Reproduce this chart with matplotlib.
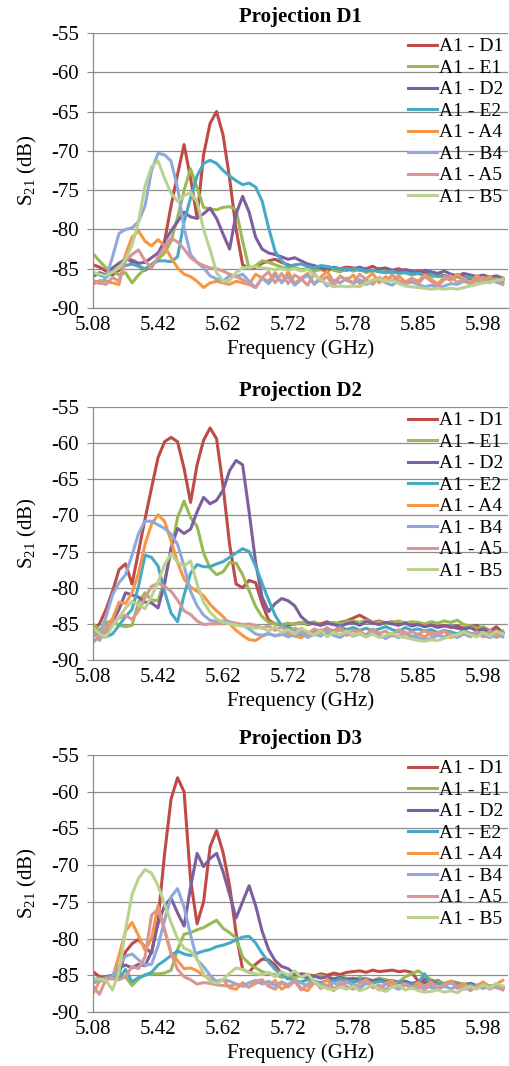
import numpy as np
import matplotlib
matplotlib.use("Agg")
import matplotlib.pyplot as plt

plt.rcParams['font.family'] = ['Liberation Serif', 'DejaVu Serif']
plt.rcParams['mathtext.fontset'] = 'custom'
plt.rcParams['mathtext.rm'] = 'Liberation Serif'
plt.rcParams['axes.unicode_minus'] = False

# category axis: one label every 10 samples
freq_labels = ["5.08", "5.42", "5.62", "5.72", "5.78", "5.85", "5.98"]
series_names = ["A1 - D1", "A1 - E1", "A1 - D2", "A1 - E2",
                "A1 - A4", "A1 - B4", "A1 - A5", "A1 - B5"]
colors = ["#BE4B48", "#98B954", "#7D5FA0", "#46AAC5",
          "#F79646", "#8EA9DB", "#DA9694", "#B9D28E"]
titles = ["Projection D1", "Projection D2", "Projection D3"]

# ---- Projection D1 ----
p1_D1 = [-84.5, -84.8, -85.3, -85.8, -85.2, -83.5, -84.2, -84.6, -85.2, -84.5,
         -83.8, -81.5, -77.0, -73.0, -69.2, -73.5, -78.5, -70.5, -66.5, -65.0,
         -68.0, -73.5, -80.0, -84.5, -85.0, -84.8, -84.3, -84.0, -83.8, -84.2,
         -84.5, -84.9, -85.2, -85.0, -84.7, -85.1, -85.3, -84.9, -85.0, -84.8,
         -84.9, -85.2, -85.0, -84.7, -85.1, -85.4, -85.2, -85.0, -85.3, -85.6,
         -85.3, -85.5, -85.8, -85.6, -85.9, -86.1, -85.8, -86.0, -86.3, -86.0,
         -86.2, -86.5, -86.1, -86.4]
p1_E1 = [-83.1, -84.0, -84.9, -85.3, -85.8, -85.5, -86.8, -85.8, -85.0, -84.5,
         -83.8, -83.0, -81.5, -78.5, -75.0, -72.3, -74.7, -77.2, -77.4, -77.5,
         -77.2, -77.1, -77.5, -81.5, -85.0, -84.6, -84.0, -84.2, -84.5, -84.8,
         -85.0, -84.8, -85.2, -85.0, -85.3, -85.1, -84.9, -85.2, -85.4, -85.0,
         -85.3, -85.1, -85.5, -85.2, -85.0, -85.4, -85.6, -85.3, -85.5, -85.8,
         -85.6, -85.9, -86.1, -85.8, -86.0, -86.2, -86.0, -86.3, -86.1, -86.4,
         -86.2, -86.5, -86.3, -86.6]
p1_D2 = [-86.0, -85.5, -85.8, -84.9, -84.3, -83.8, -83.9, -84.3, -84.2, -83.6,
         -83.0, -81.5, -80.2, -79.0, -77.8, -78.4, -78.6, -78.0, -77.3, -78.6,
         -80.6, -82.5, -78.0, -75.8, -77.8, -81.0, -82.5, -83.0, -83.2, -83.5,
         -83.8, -83.6, -84.0, -84.4, -84.6, -84.9, -85.1, -84.8, -85.0, -85.2,
         -85.0, -84.8, -85.1, -85.3, -85.0, -84.9, -85.2, -85.4, -85.1, -85.3,
         -85.5, -85.2, -85.4, -85.6, -85.3, -85.7, -85.9, -85.6, -85.8, -86.0,
         -85.8, -86.1, -85.9, -86.2]
p1_E2 = [-85.5, -85.8, -86.1, -85.4, -84.9, -84.6, -84.4, -84.7, -85.0, -84.5,
         -84.0, -84.0, -84.1, -83.5, -79.0, -76.0, -73.2, -71.6, -71.2, -71.6,
         -72.5, -73.2, -73.8, -74.3, -74.1, -74.6, -76.4, -79.8, -82.8, -84.0,
         -84.7, -84.5, -84.4, -84.7, -84.9, -84.6, -84.7, -84.9, -85.0, -85.1,
         -85.0, -85.1, -85.3, -85.2, -85.4, -85.5, -85.3, -85.6, -85.5, -85.7,
         -85.6, -85.8, -85.7, -86.0, -85.9, -86.1, -86.0, -86.2, -86.1, -86.3,
         -86.2, -86.4, -86.3, -86.5]
p1_A4 = [-87.0, -86.5, -86.6, -86.8, -87.0, -83.2, -81.0, -80.2, -81.5, -82.1,
         -81.3, -82.1, -83.6, -84.9, -85.7, -86.0, -86.6, -87.4, -86.8, -86.6,
         -86.8, -87.0, -86.6, -86.8, -87.0, -85.7, -86.2, -86.6, -85.5, -86.8,
         -85.4, -86.9, -86.2, -85.6, -87.0, -86.1, -85.3, -86.7, -86.0, -86.5,
         -85.8, -86.9, -86.3, -85.6, -86.8, -86.0, -86.5, -85.9, -86.7, -86.2,
         -86.6, -85.8, -86.4, -86.9, -86.1, -86.5, -85.7, -86.3, -86.8, -85.9,
         -86.4, -86.0, -86.7, -86.2]
p1_B4 = [-86.5, -86.9, -86.2, -83.5, -80.5, -80.0, -79.8, -79.0, -77.0, -72.5,
         -70.3, -70.5, -71.3, -74.7, -79.8, -83.2, -84.2, -84.9, -85.9, -86.3,
         -86.6, -85.9, -86.0, -85.7, -86.6, -87.4, -86.2, -86.9, -85.8, -86.7,
         -86.0, -87.1, -86.4, -85.8, -86.9, -86.3, -87.2, -86.5, -86.8, -86.2,
         -86.9, -86.4, -87.0, -86.6, -86.2, -86.8, -87.1, -86.5, -86.9, -86.7,
         -87.0, -87.3, -87.1, -87.4, -87.2, -86.9, -87.0, -86.6, -86.9, -86.5,
         -86.8, -86.4, -86.7, -87.0]
p1_A5 = [-86.5, -86.8, -87.0, -86.1, -86.6, -84.0, -83.2, -82.6, -84.0, -84.9,
         -83.5, -82.2, -81.1, -81.6, -82.5, -83.6, -84.2, -84.6, -84.9, -85.0,
         -85.3, -85.7, -86.0, -86.4, -87.0, -87.4, -86.1, -85.4, -86.8, -85.6,
         -86.9, -85.8, -86.3, -87.1, -85.6, -86.6, -86.0, -87.2, -85.9, -86.5,
         -86.8, -85.7, -86.4, -87.0, -86.1, -86.7, -85.8, -86.5, -87.1, -86.3,
         -86.9, -86.0, -86.6, -87.2, -86.4, -85.9, -86.8, -86.2, -87.0, -86.5,
         -86.1, -86.8, -86.3, -86.9]
p1_B5 = [-85.5, -85.7, -85.9, -85.4, -84.9, -83.8, -82.0, -79.0, -74.5, -72.0,
         -71.3, -73.5, -75.4, -76.4, -75.7, -75.3, -76.5, -80.0, -82.6, -85.5,
         -86.6, -86.5, -85.5, -84.9, -84.8, -84.7, -84.9, -85.0, -85.1, -85.0,
         -85.2, -85.0, -85.3, -85.1, -85.8, -86.4, -86.9, -87.3, -87.2, -87.3,
         -87.2, -87.3, -86.8, -86.4, -86.3, -86.6, -86.5, -86.9, -87.2, -87.3,
         -87.4, -87.5, -87.6, -87.5, -87.6, -87.5, -87.6, -87.4, -87.2, -87.0,
         -86.8, -86.7, -86.5, -86.4]

# ---- Projection D2 ----
p2_D1 = [-85.9, -85.0, -83.0, -80.5, -77.5, -76.7, -79.5, -75.0, -70.5, -66.2,
         -62.0, -59.8, -59.2, -59.8, -63.5, -68.2, -63.0, -59.6, -57.9, -59.4,
         -66.0, -74.0, -79.5, -80.0, -79.0, -79.3, -82.2, -84.5, -85.0, -85.2,
         -85.2, -85.0, -84.8, -85.1, -84.9, -85.0, -84.7, -85.1, -84.8, -84.6,
         -84.2, -83.8, -84.3, -84.8, -84.6, -84.9, -84.7, -85.0, -84.8, -85.1,
         -85.0, -85.3, -85.1, -85.4, -85.2, -85.5, -85.3, -85.6, -85.4, -85.2,
         -85.8, -86.0, -85.4, -86.2]
p2_E1 = [-85.0, -85.9, -84.8, -84.6, -85.2, -85.4, -85.2, -82.0, -80.7, -81.7,
         -81.8, -79.0, -75.0, -70.3, -68.0, -70.3, -71.5, -75.2, -77.3, -78.2,
         -77.8, -76.5, -76.6, -78.2, -80.4, -82.6, -84.0, -84.8, -85.0, -85.1,
         -84.9, -85.1, -84.8, -85.0, -84.7, -85.2, -84.9, -84.8, -85.0, -84.7,
         -84.6, -84.8, -84.5, -84.9, -84.7, -85.0, -84.8, -84.6, -84.9, -84.7,
         -84.8, -85.0, -84.7, -84.9, -84.6, -84.8, -84.5, -85.1, -85.3, -85.6,
         -85.4, -85.9, -86.2, -86.0]
p2_D2 = [-86.0, -87.0, -86.0, -84.7, -83.0, -80.7, -81.0, -81.3, -82.0, -82.1,
         -82.8, -79.5, -74.5, -71.8, -72.5, -71.9, -69.5, -67.5, -68.4, -67.9,
         -66.5, -63.8, -62.4, -63.0, -69.5, -76.5, -81.3, -83.3, -82.2, -81.5,
         -81.8, -82.5, -84.0, -84.8, -85.0, -85.2, -84.9, -85.1, -85.3, -85.0,
         -84.8, -85.2, -84.7, -84.9, -85.1, -84.8, -85.0, -85.2, -84.9, -85.3,
         -85.1, -85.4, -85.2, -85.5, -85.3, -85.4, -85.6, -85.8, -85.5, -86.0,
         -85.7, -86.1, -85.9, -86.3]
p2_E2 = [-86.5, -86.7, -86.8, -86.4, -85.2, -84.0, -83.0, -79.8, -75.5, -75.8,
         -77.0, -80.5, -83.5, -84.7, -81.0, -78.0, -76.8, -77.1, -77.1, -76.7,
         -76.4, -75.8, -75.2, -74.6, -75.0, -77.0, -79.4, -81.7, -83.8, -85.3,
         -85.5, -85.8, -86.6, -86.4, -85.9, -86.2, -85.7, -86.0, -85.4, -85.8,
         -85.5, -85.9, -85.6, -86.0, -85.7, -85.4, -85.8, -86.1, -85.5, -85.9,
         -85.7, -86.0, -85.8, -86.2, -85.9, -86.1, -86.4, -86.0, -86.3, -86.5,
         -86.2, -86.6, -86.0, -86.4]
p2_A4 = [-87.5, -86.7, -85.5, -84.3, -82.0, -82.2, -80.7, -78.0, -74.0, -71.2,
         -69.9, -70.8, -73.5, -76.5, -78.8, -79.9, -80.5, -81.1, -82.3, -83.2,
         -84.0, -85.0, -85.9, -86.6, -87.2, -87.3, -86.7, -86.4, -86.6, -86.5,
         -86.4, -86.7, -86.9, -86.3, -86.4, -85.8, -86.5, -86.1, -85.6, -86.3,
         -86.6, -85.9, -86.8, -86.2, -86.5, -87.0, -86.3, -86.7, -86.1, -86.9,
         -86.4, -86.8, -86.2, -86.6, -86.0, -86.9, -86.5, -86.3, -86.8, -86.1,
         -86.7, -86.2, -86.9, -86.4]
p2_B4 = [-87.5, -86.8, -84.0, -81.0, -79.3, -78.2, -75.5, -72.5, -70.8, -70.8,
         -71.3, -71.8, -72.6, -74.0, -77.0, -80.5, -82.5, -83.8, -84.5, -84.7,
         -84.6, -84.7, -85.0, -85.2, -85.7, -86.4, -86.6, -86.3, -86.7, -86.4,
         -86.8, -86.5, -86.2, -86.9, -86.4, -86.7, -86.1, -86.6, -86.9, -86.3,
         -86.7, -86.4, -86.8, -86.2, -86.6, -87.0, -86.5, -86.9, -86.3, -86.7,
         -86.9, -87.2, -87.0, -86.6, -86.8, -86.5, -86.9, -86.4, -86.7, -86.2,
         -86.6, -86.9, -86.5, -86.8]
p2_A5 = [-86.0, -87.3, -85.8, -84.7, -84.2, -83.8, -84.4, -83.2, -81.4, -79.8,
         -79.4, -79.8, -80.5, -81.7, -83.2, -83.7, -84.6, -85.1, -85.0, -85.0,
         -84.9, -84.8, -84.9, -85.1, -85.0, -85.2, -85.6, -85.3, -85.9, -85.4,
         -86.2, -85.6, -85.9, -86.4, -85.7, -86.1, -85.5, -86.3, -85.8, -86.6,
         -85.9, -86.2, -86.5, -85.7, -86.3, -86.0, -86.7, -85.8, -86.4, -86.1,
         -86.5, -85.9, -86.6, -86.2, -86.0, -86.4, -86.7, -86.1, -86.5, -86.2,
         -86.8, -86.0, -86.5, -86.3]
p2_B5 = [-85.5, -86.4, -86.8, -85.3, -84.1, -82.8, -81.9, -82.4, -82.9, -81.2,
         -79.2, -76.8, -75.3, -76.5, -77.0, -76.3, -79.5, -82.0, -83.4, -84.3,
         -84.8, -85.0, -85.2, -85.3, -85.4, -85.6, -85.5, -86.0, -85.4, -86.2,
         -85.8, -86.4, -85.6, -86.1, -86.6, -85.9, -86.8, -86.2, -86.5, -86.0,
         -86.6, -86.3, -86.8, -86.4, -86.9, -86.6, -86.3, -86.7, -86.9, -87.1,
         -87.3, -87.4, -87.2, -87.3, -87.0, -86.7, -86.5, -86.1, -86.5, -86.8,
         -86.2, -86.7, -86.0, -86.4]

# ---- Projection D3 ----
p3_D1 = [-84.5, -85.2, -85.4, -85.3, -84.8, -81.8, -80.7, -80.1, -81.2, -82.0,
         -77.5, -68.5, -61.0, -58.1, -60.0, -72.0, -78.0, -75.0, -67.5, -65.3,
         -68.3, -72.8, -79.3, -84.2, -84.6, -83.5, -82.8, -82.9, -83.6, -84.8,
         -85.5, -85.0, -84.8, -84.9, -85.1, -84.8, -85.0, -84.7, -84.9, -84.6,
         -84.5, -84.4, -84.6, -84.3, -84.5, -84.4, -84.3, -84.5, -84.4, -84.6,
         -85.8, -85.5, -86.0, -85.7, -86.2, -85.9, -86.0, -86.3, -86.1, -86.4,
         -86.2, -86.5, -86.3, -86.6]
p3_E1 = [-85.5, -85.4, -85.5, -85.3, -84.9, -85.2, -86.4, -85.5, -84.9, -84.8,
         -84.8, -84.7, -84.3, -81.5, -79.4, -79.2, -78.8, -78.5, -78.0, -77.5,
         -78.6, -79.2, -79.9, -82.5, -83.4, -84.0, -84.5, -84.8, -84.9, -85.3,
         -85.0, -85.3, -85.1, -85.4, -85.2, -85.0, -85.3, -85.5, -85.2, -85.4,
         -85.6, -85.3, -85.5, -85.7, -85.4, -85.6, -85.8, -85.9, -85.2, -84.8,
         -84.4, -85.0, -85.6, -85.9, -86.1, -85.8, -86.0, -86.3, -86.1, -86.4,
         -86.2, -86.6, -86.3, -86.5]
p3_D2 = [-86.0, -85.6, -85.2, -85.0, -84.0, -83.6, -84.0, -83.5, -83.7, -81.8,
         -78.0, -75.5, -74.5, -76.5, -78.3, -73.0, -68.4, -70.2, -69.1, -68.4,
         -70.9, -74.0, -77.2, -75.0, -72.8, -75.5, -79.0, -81.5, -83.0, -83.8,
         -84.1, -84.8, -85.0, -85.3, -85.1, -85.4, -85.2, -85.5, -85.3, -85.6,
         -85.4, -85.7, -85.5, -85.8, -85.6, -85.9, -85.7, -86.0, -85.8, -86.1,
         -85.9, -86.0, -85.8, -86.1, -86.3, -86.0, -86.2, -86.4, -86.1, -86.5,
         -86.3, -86.6, -86.4, -86.7]
p3_E2 = [-86.0, -85.6, -85.3, -85.0, -85.5, -84.2, -85.9, -85.3, -85.0, -84.6,
         -83.6, -83.0, -82.3, -81.7, -82.1, -82.3, -82.0, -81.7, -81.5, -81.1,
         -80.9, -80.6, -80.2, -79.8, -79.7, -80.6, -82.0, -83.2, -84.2, -84.9,
         -85.4, -85.7, -85.9, -85.6, -85.8, -86.0, -85.7, -85.9, -85.5, -85.8,
         -86.0, -85.7, -85.9, -86.1, -85.8, -86.0, -86.2, -85.9, -86.1, -86.3,
         -86.0, -84.8, -86.4, -86.1, -86.3, -86.0, -86.2, -86.5, -86.3, -86.6,
         -86.4, -86.7, -86.5, -86.8]
p3_A4 = [-87.5, -85.8, -85.4, -85.3, -82.3, -79.0, -77.8, -79.6, -81.6, -80.0,
         -75.5, -78.8, -82.0, -83.0, -84.1, -84.0, -84.4, -85.0, -85.6, -85.8,
         -85.6, -86.7, -86.9, -86.0, -86.6, -86.1, -85.8, -86.4, -85.7, -86.9,
         -86.3, -85.6, -86.8, -87.1, -86.0, -86.5, -85.5, -86.9, -86.2, -85.8,
         -86.4, -86.9, -85.6, -86.3, -87.0, -86.1, -85.7, -86.6, -86.2, -86.8,
         -86.0, -86.5, -85.9, -86.7, -86.3, -85.8, -86.6, -86.1, -86.9, -86.4,
         -85.9, -86.6, -86.2, -85.7]
p3_B4 = [-86.0, -85.8, -85.6, -85.2, -83.7, -82.4, -82.1, -82.9, -83.6, -83.5,
         -81.0, -77.5, -74.3, -73.2, -75.7, -79.5, -82.9, -83.8, -85.0, -85.9,
         -85.6, -85.8, -86.2, -86.5, -86.0, -85.7, -86.2, -85.8, -86.4, -85.9,
         -86.3, -85.7, -86.0, -86.5, -85.8, -86.2, -86.6, -86.0, -86.4, -85.9,
         -86.3, -86.7, -86.1, -86.4, -86.8, -86.2, -86.5, -86.9, -86.3, -86.6,
         -86.8, -86.4, -86.7, -86.9, -86.5, -86.8, -86.6, -86.9, -86.7, -86.5,
         -86.8, -86.4, -86.7, -86.9]
p3_A5 = [-86.5, -87.6, -85.5, -85.5, -85.6, -85.2, -83.8, -84.1, -82.5, -76.8,
         -76.0, -78.8, -82.0, -84.2, -85.2, -85.6, -86.2, -86.0, -86.1, -86.3,
         -86.4, -86.5, -86.2, -86.4, -86.6, -85.8, -85.6, -86.5, -86.9, -86.0,
         -86.6, -85.8, -87.0, -86.2, -85.7, -86.8, -86.3, -87.1, -85.9, -86.5,
         -86.9, -86.1, -85.6, -86.7, -86.3, -87.0, -86.0, -86.6, -86.2, -86.8,
         -86.4, -87.0, -86.1, -86.7, -86.3, -85.9, -86.8, -86.4, -87.1, -86.5,
         -86.2, -86.9, -86.4, -87.0]
p3_B5 = [-85.5, -85.5, -85.7, -87.0, -84.5, -78.8, -74.0, -71.8, -70.6, -71.1,
         -72.8, -75.3, -77.8, -80.0, -81.3, -81.7, -82.8, -84.8, -85.8, -86.1,
         -85.6, -84.7, -84.0, -84.2, -84.6, -84.8, -84.9, -84.6, -85.2, -84.5,
         -85.0, -84.4, -85.3, -84.8, -85.9, -86.5, -86.8, -87.0, -86.6, -86.9,
         -86.5, -87.1, -86.8, -86.3, -86.9, -87.2, -86.6, -86.4, -87.0, -86.7,
         -87.1, -87.3, -87.2, -87.0, -87.3, -87.1, -87.4, -86.8, -86.5, -86.9,
         -86.3, -86.7, -86.1, -86.5]

panels = [
    [p1_D1, p1_E1, p1_D2, p1_E2, p1_A4, p1_B4, p1_A5, p1_B5],
    [p2_D1, p2_E1, p2_D2, p2_E2, p2_A4, p2_B4, p2_A5, p2_B5],
    [p3_D1, p3_E1, p3_D2, p3_E2, p3_A4, p3_B4, p3_A5, p3_B5],
]

W, H = 510, 1066
fig = plt.figure(figsize=(W / 100, H / 100), dpi=100)

# plot areas in pixels: (left, top, right, bottom)
boxes = [(93, 33, 508, 308), (93, 407, 508, 660), (93, 755, 508, 1012)]
grid_c = "#8c8c8c"

for title, series, (l, t, r, b) in zip(titles, panels, boxes):
    ax = fig.add_axes([l / W, 1 - b / H, (r - l) / W, (b - t) / H])
    x = np.arange(len(series[0]))
    for name, vals, c in zip(series_names, series, colors):
        ax.plot(x, vals, color=c, lw=2.2, label=name, solid_joinstyle='round')

    ax.set_xlim(0, 63.8)
    ax.set_ylim(-90, -55)
    ax.set_yticks(np.arange(-90, -54, 5))
    ax.set_xticks(x[::10])
    ax.set_xticklabels(freq_labels)
    ax.grid(axis='y', color=grid_c, lw=0.9)
    ax.set_axisbelow(True)
    for s in ['top', 'right']:
        ax.spines[s].set_visible(False)
    for s in ['left', 'bottom']:
        ax.spines[s].set_color(grid_c)
        ax.spines[s].set_linewidth(0.9)
    ax.tick_params(axis='x', length=0, pad=6, labelsize=15)
    ax.tick_params(axis='y', length=4, color=grid_c, pad=6, labelsize=15)

    ax.set_title(title, fontsize=15, fontweight='bold', pad=8)
    ax.set_xlabel("Frequency (GHz)", fontsize=15, labelpad=3)
    ax.set_ylabel(r"S$_{21}$ (dB)", fontsize=15, labelpad=9)
    ax.legend(loc='upper right', bbox_to_anchor=(1.0, 1.0), frameon=False,
              fontsize=14, handlelength=1.5, handletextpad=0.1,
              labelspacing=0.2, borderaxespad=0.0, borderpad=0.25)

fig.savefig("out.png", dpi=100)
